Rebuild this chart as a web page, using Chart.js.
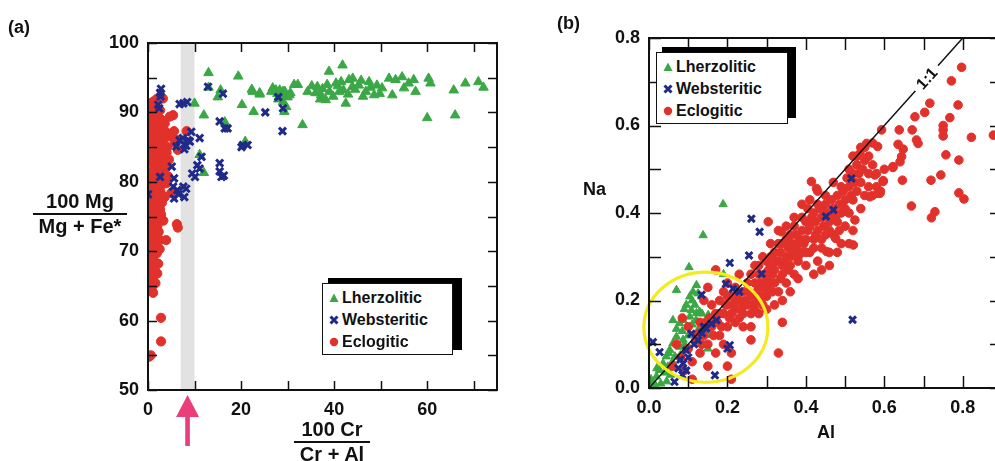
<!DOCTYPE html>
<html>
<head>
<meta charset="utf-8">
<script src="https://cdn.jsdelivr.net/npm/chart.js@4.4.1/dist/chart.umd.min.js"></script>
<style>
  html, body { margin: 0; padding: 0; width: 995px; height: 461px; overflow: hidden; background: #fff; }
  body { position: relative; font-family: 'Liberation Sans', Arial, sans-serif; font-weight: bold; color: #111; }
  canvas { position: absolute; top: 0; }
  .lbl { position: absolute; font-size: 18px; line-height: 20px; white-space: nowrap; }
  .frac { position: absolute; font-size: 20px; line-height: 22px; text-align: center; white-space: nowrap; }
  .frac .num { border-bottom: 2px solid #111; padding-bottom: 1px; }
  .shadow { position: absolute; background: #000; }
  .legend { position: absolute; background: #fff; border: 1.5px solid #111; box-sizing: border-box; font-size: 16px; }
  .legend div { position: absolute; left: 6px; height: 20px; line-height: 20px; white-space: nowrap; }
  .legend svg { vertical-align: middle; margin-right: 3px; position: relative; top: -1px; }
</style>
</head>
<body>
<canvas id="chartA" width="505" height="461" style="left:0"></canvas>
<canvas id="chartB" width="450" height="461" style="left:560px"></canvas>

<div class="lbl" style="left:8px;top:17px">(a)</div>
<div class="lbl" style="left:557px;top:13px">(b)</div>

<div class="frac" style="left:33px;top:190px;width:94px"><div class="num">100 Mg</div><div>Mg + Fe*</div></div>
<div class="frac" style="left:294px;top:418px;width:76px"><div class="num">100 Cr</div><div>Cr + Al</div></div>
<div class="lbl" style="left:583px;top:179px">Na</div>
<div class="lbl" style="left:817px;top:422px">Al</div>

<div class="shadow" style="left:328px;top:278px;width:134px;height:72px"></div>
<div class="legend" style="left:322px;top:283px;width:131px;height:72px">
  <div style="top:4px"><svg width="10" height="10"><polygon points="5,0.5 9.5,9 0.5,9" fill="#3aa845"/></svg>Lherzolitic</div>
  <div style="top:26px"><svg width="10" height="10"><path d="M1.5,1.5 L8.5,8.5 M8.5,1.5 L1.5,8.5" stroke="#1f2a8a" stroke-width="3"/></svg>Websteritic</div>
  <div style="top:48px"><svg width="10" height="10"><circle cx="5" cy="5" r="4.2" fill="#e2312b"/></svg>Eclogitic</div>
</div>

<div class="shadow" style="left:662px;top:47px;width:134px;height:71px"></div>
<div class="legend" style="left:656px;top:52px;width:132px;height:72px">
  <div style="top:4px"><svg width="10" height="10"><polygon points="5,0.5 9.5,9 0.5,9" fill="#3aa845"/></svg>Lherzolitic</div>
  <div style="top:26px"><svg width="10" height="10"><path d="M1.5,1.5 L8.5,8.5 M8.5,1.5 L1.5,8.5" stroke="#1f2a8a" stroke-width="3"/></svg>Websteritic</div>
  <div style="top:48px"><svg width="10" height="10"><circle cx="5" cy="5" r="4.2" fill="#e2312b"/></svg>Eclogitic</div>
</div>

<script>
// ---- panel (a): 100Cr/(Cr+Al) vs 100Mg/(Mg+Fe*) ----
var aXLabels = [0, 20, 40, 60];
var aXMinor = [10, 30, 50, 70];
var aYLabels = [50, 60, 70, 80, 90, 100];
var aYMinor = [55, 65, 75, 85, 95];
var aBand = [7, 10];
var aArrowX = 8.5;

var aLherzolitic = [
  [10.0,91.3],[12.0,89.6],[13.0,95.7],[13.0,93.6],[15.0,92.2],[15.6,93.2],[16.5,88.6],[11.1,83.9],[12.0,81.3],
  [19.4,95.2],[20.2,91.1],[22.3,93.3],[22.7,90.1],[24.0,92.6],[20.9,85.8],[22.5,93.0],[24.0,92.8],
  [26.5,93.0],[26.8,93.5],[27.5,93.2],[27.8,92.7],[28.3,93.2],[28.2,92.3],[28.8,92.4],[29.0,93.0],[29.4,93.0],
  [30.0,92.2],[30.4,92.5],[30.6,92.8],[28.0,91.9],[29.0,91.5],[29.3,90.1],[29.7,90.8],[31.4,94.0],[32.2,94.0],[33.2,88.2],
  [34.3,93.0],[35.2,93.8],[36.0,92.8],[36.4,93.7],[37.0,91.9],[37.2,92.5],[37.5,93.4],[38.2,91.8],[38.5,94.0],
  [38.9,95.9],[39.0,93.0],[39.8,92.3],[40.4,94.2],[40.8,93.8],[41.1,93.0],[41.5,94.4],[41.8,96.8],[42.0,93.2],
  [42.5,91.3],[43.0,92.6],[43.2,94.7],[43.9,93.7],[44.0,94.9],[44.5,93.3],[45.3,93.9],[45.8,94.6],[46.2,92.3],
  [46.8,93.0],[47.5,94.4],[47.8,93.6],[48.6,92.5],[49.2,93.9],[49.8,92.7],[50.3,93.5],[51.8,94.9],[52.5,92.5],
  [53.2,94.7],[54.6,95.1],[55.0,93.5],[56.0,94.2],[57.1,94.7],[57.5,93.0],[60.3,94.9],[60.7,94.2],[60.0,89.2],
  [66.0,89.6],[65.7,93.2],[68.2,94.2],[71.0,94.4],[72.1,93.6]
];
var aWebsteritic = [
  [2.6,92.8],[2.8,93.4],[2.7,92.3],[2.2,91.1],[2.4,90.6],[6.8,91.2],[7.6,91.3],[8.4,91.5],[9.3,87.2],[11.1,86.3],
  [6.8,86.0],[7.9,85.3],[6.1,85.1],[7.5,86.3],[8.2,85.2],[9.0,85.8],[7.8,84.7],[8.6,86.0],
  [15.4,88.7],[16.5,87.7],[17.1,87.7],[16.1,92.7],[12.9,93.7],[25.2,90.0],[28.9,87.3],[28.0,92.2],[29.0,90.6],
  [20.4,85.3],[21.4,85.3],[20.1,85.0],[11.5,83.6],[11.1,81.9],[10.1,80.7],[10.6,82.4],[9.5,81.2],
  [15.4,81.5],[15.8,80.7],[15.4,82.7],[16.3,80.9],[5.1,82.2],[2.6,80.7],[5.6,80.5],[5.4,79.3],[7.6,79.3],
  [6.3,78.8],[8.2,79.0],[5.6,77.6],[7.8,77.8],[6.6,78.2],[0.0,78.2]
];
var aEclogitic = [
  [0.6,91.3],[1.2,91.6],[2.0,92.0],[3.2,92.0],[1.6,90.6],[2.6,90.3],[0.2,90.2],
  [0.3,89.5],[1.0,89.2],[0.5,88.6],[1.5,88.4],[2.3,88.0],[0.2,87.6],[0.9,87.3],[1.7,87.0],[2.8,86.8],[3.5,86.2],
  [4.7,89.4],[5.4,89.6],[5.0,86.5],[5.6,87.3],[6.2,86.0],[8.3,87.3],[5.8,85.6],[6.4,84.6],[4.2,85.0],
  [0.4,85.8],[1.2,85.5],[2.0,85.2],[0.7,84.4],[1.6,84.0],[2.6,84.5],[3.2,83.8],[4.0,84.2],
  [0.2,83.0],[1.0,82.7],[1.9,82.3],[2.9,82.5],[3.7,82.0],[4.5,83.2],
  [0.5,81.4],[1.4,81.0],[2.3,80.6],[3.3,80.8],[4.0,79.8],[0.1,80.2],
  [0.8,79.3],[1.7,78.8],[2.7,78.5],[0.3,78.0],[3.6,77.8],[5.0,78.4],
  [1.2,77.2],[2.1,76.8],[0.6,76.3],[1.5,75.8],[2.6,76.0],
  [0.2,75.0],[1.0,74.6],[1.9,74.3],[2.8,75.3],[0.6,73.8],
  [1.4,73.2],[2.3,72.8],[0.3,72.5],[1.1,72.0],[3.9,71.6],[6.2,73.9],[6.4,73.4],
  [0.7,71.2],[1.7,70.8],[2.5,70.3],[0.2,70.2],[1.2,69.8],
  [1.9,69.7],[0.5,69.0],[1.5,68.4],[0.9,67.8],[2.2,68.2],
  [0.3,67.0],[1.3,66.5],[2.0,66.8],[0.7,65.9],[1.6,65.4],
  [0.4,64.8],[1.1,64.0],[0.8,64.5],
  [2.8,60.4],[2.8,57.0],[0.6,55.0],[0.2,54.8],
  [0.8,90.4],[1.8,89.8],[2.8,89.0],[3.6,88.4],[0.6,86.6],[1.4,86.3],[2.3,86.6],[3.0,85.4],[3.8,87.2],[0.9,83.6],
  [2.2,83.5],[1.5,82.0],[2.6,81.6],[3.5,81.2],[0.7,80.1],[1.8,79.8],[2.9,79.5],[1.1,78.0],[2.2,77.8],[0.3,77.0],
  [1.9,75.6],[0.8,75.2],[3.3,74.4],[0.4,74.0],[2.0,73.6],[0.9,73.0],[1.8,72.0],[0.4,71.5],[2.6,71.6],[1.0,70.5],
  [0.2,68.5],[1.1,69.0],[0.6,67.3],[1.5,67.2],[1.0,66.2],[0.2,65.6],[3.0,77.0],[4.3,80.8],[4.4,86.8],[3.2,88.6]
];

// ---- panel (b): Al vs Na ----
var bXLabels = [0, 0.2, 0.4, 0.6, 0.8];
var bXMinor = [0.1, 0.3, 0.5, 0.7, 0.9];
var bYLabels = [0, 0.2, 0.4, 0.6, 0.8];
var bYMinor = [0.1, 0.3, 0.5, 0.7];
var bOneToOne = [[0, 0], [0.8, 0.8]];
var bCircle = { x: 0.145, y: 0.139, rx: 0.158, ry: 0.126 };

var bLherzolitic = [
  [0.189,0.42],[0.138,0.349],[0.102,0.276],[0.19,0.26],[0.07,0.224],[0.121,0.235],[0.112,0.22],[0.125,0.216],
  [0.134,0.209],[0.104,0.209],[0.095,0.19],[0.117,0.19],[0.108,0.178],[0.121,0.171],[0.104,0.163],[0.087,0.155],
  [0.078,0.148],[0.061,0.155],[0.129,0.174],[0.151,0.167],[0.159,0.121],[0.07,0.117],[0.061,0.102],[0.053,0.087],
  [0.044,0.072],[0.036,0.056],[0.027,0.041],[0.019,0.026],[0.01,0.014],[0.078,0.094],[0.066,0.072],[0.087,0.11],
  [0.048,0.049],[0.095,0.087],[0.005,0.02],[0.015,0.008],[0.03,0.01],[0.045,0.015],[0.02,0.045],[0.04,0.035],
  [0.055,0.03],[0.06,0.06],[0.08,0.075],[0.05,0.08],[0.09,0.1],[0.1,0.12],[0.085,0.13],[0.11,0.145],[0.12,0.155],
  [0.13,0.14],[0.07,0.135],[0.09,0.18],[0.11,0.2],[0.135,0.17],[0.145,0.13],[0.16,0.15],[0.15,0.09]
];
var bWebsteritic = [
  [0.261,0.387],[0.282,0.357],[0.206,0.286],[0.255,0.303],[0.287,0.261],[0.196,0.238],[0.214,0.227],[0.134,0.213],
  [0.451,0.392],[0.47,0.407],[0.516,0.479],[0.519,0.156],[0.168,0.029],[0.065,0.014],[0.01,0.105],[0.027,0.082],
  [0.095,0.086],[0.095,0.04],[0.087,0.056],[0.206,0.098],[0.172,0.155],[0.146,0.136],[0.125,0.109],[0.108,0.124],
  [0.159,0.147],[0.1,0.07],[0.08,0.065],[0.115,0.1],[0.135,0.125],[0.085,0.03],[0.2,0.09],[0.23,0.22],[0.14,0.14],[0.075,0.045]
];
var bEclogitic = [
  [0.06,0.05],[0.08,0.07],[0.09,0.04],[0.1,0.09],[0.07,0.1],[0.11,0.06],[0.12,0.11],[0.1,0.14],[0.085,0.16],[0.11,0.02],
  [0.13,0.08],[0.14,0.12],[0.15,0.1],[0.13,0.15],[0.16,0.14],[0.17,0.17],[0.15,0.05],[0.17,0.08],[0.18,0.12],[0.19,0.1],
  [0.16,0.19],[0.18,0.2],[0.19,0.17],[0.2,0.14],[0.21,0.08],[0.2,0.05],[0.21,0.02],[0.17,0.27],[0.14,0.2],[0.15,0.23],
  [0.2,0.19],[0.21,0.21],[0.22,0.18],[0.22,0.23],[0.23,0.2],[0.24,0.17],[0.24,0.22],[0.25,0.19],[0.26,0.14],[0.25,0.24],
  [0.26,0.21],[0.27,0.18],[0.27,0.24],[0.28,0.26],[0.28,0.21],[0.29,0.23],[0.29,0.19],[0.3,0.25],[0.3,0.21],[0.31,0.28],
  [0.23,0.26],[0.2,0.24],[0.19,0.22],[0.24,0.14],[0.22,0.15],[0.21,0.17],[0.23,0.16],[0.26,0.26],[0.27,0.28],[0.29,0.3],
  [0.28,0.17],[0.3,0.18],
  [0.31,0.24],[0.32,0.27],[0.32,0.31],[0.33,0.22],[0.33,0.29],[0.34,0.26],[0.34,0.33],[0.35,0.3],[0.35,0.24],[0.36,0.28],
  [0.36,0.35],[0.37,0.31],[0.37,0.26],[0.38,0.33],[0.38,0.29],[0.39,0.36],[0.39,0.31],[0.4,0.34],[0.4,0.28],[0.31,0.33],
  [0.33,0.36],[0.35,0.37],[0.3,0.29],[0.36,0.22],[0.34,0.2],[0.32,0.19],[0.38,0.25],[0.4,0.38],[0.37,0.39],[0.34,0.15],
  [0.33,0.08],[0.26,0.11],[0.304,0.38],[0.338,0.357],
  [0.41,0.31],[0.41,0.37],[0.42,0.34],[0.42,0.4],[0.43,0.29],[0.43,0.36],[0.44,0.32],[0.44,0.39],[0.45,0.35],[0.45,0.42],
  [0.46,0.38],[0.46,0.31],[0.47,0.41],[0.47,0.35],[0.48,0.44],[0.48,0.38],[0.49,0.4],[0.49,0.33],[0.5,0.43],[0.5,0.37],
  [0.42,0.26],[0.44,0.27],[0.46,0.28],[0.48,0.31],[0.41,0.43],[0.39,0.42],[0.43,0.45],[0.47,0.47],[0.414,0.472],[0.427,0.456],
  [0.525,0.384],[0.521,0.327],[0.476,0.342],[0.453,0.312],
  [0.51,0.46],[0.51,0.4],[0.52,0.49],[0.52,0.43],[0.53,0.45],[0.53,0.51],[0.54,0.47],[0.54,0.41],[0.55,0.52],[0.55,0.44],
  [0.56,0.49],[0.56,0.46],[0.57,0.44],[0.58,0.46],[0.59,0.45],[0.52,0.36],[0.51,0.33],[0.54,0.55],[0.56,0.53],[0.52,0.53],
  [0.58,0.49],[0.6,0.5],[0.57,0.51],[0.597,0.472],[0.584,0.445],[0.563,0.437],[0.583,0.552],[0.555,0.559],[0.538,0.536],
  [0.576,0.487],[0.622,0.506],
  [0.797,0.733],[0.771,0.702],[0.788,0.647],[0.767,0.618],[0.716,0.651],[0.703,0.63],[0.678,0.62],[0.671,0.59],
  [0.638,0.59],[0.593,0.59],[0.75,0.6],[0.75,0.59],[0.75,0.576],[0.822,0.573],[0.878,0.578],[0.757,0.533],[0.79,0.521],
  [0.744,0.487],[0.719,0.475],[0.79,0.446],[0.803,0.432],[0.729,0.403],[0.72,0.389],[0.669,0.416],[0.646,0.475],
  [0.622,0.504],[0.635,0.557],[0.648,0.546],[0.644,0.529],[0.64,0.517],[0.682,0.567],[0.686,0.559],[0.597,0.474],[0.589,0.445],
  [0.125,0.125],[0.135,0.1],[0.145,0.15],[0.155,0.16],[0.165,0.12],[0.175,0.15],[0.185,0.14],[0.195,0.19],[0.205,0.16],
  [0.215,0.19],[0.225,0.21],[0.235,0.18],[0.245,0.2],[0.255,0.22],[0.265,0.19],[0.275,0.22],[0.285,0.24],[0.295,0.26],
  [0.305,0.27],[0.315,0.26],[0.325,0.29],[0.335,0.31],[0.345,0.29],[0.355,0.32],[0.365,0.33],[0.375,0.35],[0.385,0.34],
  [0.395,0.33],[0.405,0.36],[0.415,0.39],[0.425,0.38],[0.435,0.41],[0.445,0.37],[0.455,0.4],[0.465,0.43],[0.475,0.39],
  [0.485,0.42],[0.495,0.45],[0.505,0.48],[0.515,0.44],[0.525,0.47],[0.535,0.49],[0.545,0.5],[0.5,0.41],[0.46,0.36],
  [0.44,0.34],[0.42,0.32],[0.4,0.31],[0.38,0.3],[0.36,0.3],[0.34,0.28],[0.32,0.24],[0.3,0.23],[0.28,0.23],[0.26,0.17],
  [0.24,0.19],[0.22,0.2],[0.2,0.21],[0.18,0.17],[0.28,0.28],[0.31,0.3],[0.33,0.33],[0.35,0.34],[0.37,0.37],[0.39,0.39],
  [0.43,0.42],[0.45,0.44],[0.49,0.46],[0.51,0.5],[0.53,0.53],[0.55,0.55],[0.57,0.56],[0.405,0.41],[0.425,0.35],
  [0.445,0.41],[0.465,0.4],[0.485,0.36],[0.375,0.32],[0.355,0.27],[0.335,0.25],[0.315,0.22],[0.295,0.21],[0.275,0.2]
];

var RED = '#e2312b', GREEN = '#3aa845', NAVY = '#1f2a8a';
var FONT = { family: "'Liberation Sans', Arial, sans-serif", size: 18, weight: 'bold' };

function toPts(arr) {
    return arr.map(function (p) { return { x: p[0], y: p[1] }; });
}

// frame + inward ticks on all four sides
var frameTicks = {
    id: 'frameTicks',
    afterDraw: function (chart, args, opts) {
        var ctx = chart.ctx, a = chart.chartArea, x = chart.scales.x, y = chart.scales.y;
        var len = opts.len;
        ctx.save();
        ctx.strokeStyle = '#111';
        ctx.lineWidth = opts.lw;
        ctx.beginPath();
        opts.xt.forEach(function (v) {
            var px = Math.round(x.getPixelForValue(v)) + 0.5;
            if (px > a.right + 1) return;
            ctx.moveTo(px, a.bottom); ctx.lineTo(px, a.bottom - len);
            ctx.moveTo(px, a.top); ctx.lineTo(px, a.top + len);
        });
        opts.yt.forEach(function (v) {
            var py = Math.round(y.getPixelForValue(v)) + 0.5;
            ctx.moveTo(a.left, py); ctx.lineTo(a.left + len, py);
            ctx.moveTo(a.right, py); ctx.lineTo(a.right - len, py);
        });
        ctx.stroke();
        ctx.lineWidth = opts.lw + 0.5;
        ctx.strokeRect(a.left, a.top, a.right - a.left, a.bottom - a.top);
        ctx.restore();
    }
};

// gray band and pink arrow for panel (a)
var bandArrow = {
    id: 'bandArrow',
    beforeDatasetsDraw: function (chart) {
        var ctx = chart.ctx, a = chart.chartArea, x = chart.scales.x;
        var x0 = x.getPixelForValue(aBand[0]), x1 = x.getPixelForValue(aBand[1]);
        ctx.save();
        ctx.fillStyle = '#e2e2e2';
        ctx.fillRect(x0, a.top, x1 - x0, a.bottom - a.top);
        ctx.restore();
    },
    afterDraw: function (chart) {
        var ctx = chart.ctx, a = chart.chartArea, x = chart.scales.x;
        var px = x.getPixelForValue(aArrowX), tip = a.bottom + 5;
        ctx.save();
        ctx.fillStyle = '#ea3d7b';
        ctx.beginPath();
        ctx.moveTo(px, tip);
        ctx.lineTo(px + 11.5, tip + 22);
        ctx.lineTo(px - 11.5, tip + 22);
        ctx.closePath();
        ctx.fill();
        ctx.fillRect(px - 2.3, tip + 20, 4.6, 31);
        ctx.restore();
    }
};

// yellow ring and 1:1 label for panel (b)
var ringLabel = {
    id: 'ringLabel',
    afterDatasetsDraw: function (chart) {
        var ctx = chart.ctx, x = chart.scales.x, y = chart.scales.y;
        var cx = x.getPixelForValue(bCircle.x), cy = y.getPixelForValue(bCircle.y);
        var rx = x.getPixelForValue(bCircle.x + bCircle.rx) - cx;
        var ry = cy - y.getPixelForValue(bCircle.y + bCircle.ry);
        ctx.save();
        ctx.strokeStyle = '#f3ea1f';
        ctx.lineWidth = 3.2;
        ctx.beginPath();
        ctx.ellipse(cx, cy, rx, ry, 0, 0, Math.PI * 2);
        ctx.stroke();

        var p0x = x.getPixelForValue(0), p0y = y.getPixelForValue(0);
        var p1x = x.getPixelForValue(0.8), p1y = y.getPixelForValue(0.8);
        var ang = Math.atan2(p1y - p0y, p1x - p0x);
        var lx = x.getPixelForValue(0.708), ly = y.getPixelForValue(0.708);
        ctx.translate(lx, ly);
        ctx.rotate(ang);
        ctx.fillStyle = '#fff';
        ctx.fillRect(-17, -8, 34, 16);
        ctx.fillStyle = '#111';
        ctx.font = "bold 16px 'Liberation Sans', Arial, sans-serif";
        ctx.textAlign = 'center';
        ctx.textBaseline = 'middle';
        ctx.fillText('1:1', 0, 1);
        ctx.restore();
    }
};

function axisOpts(min, max, labels, fmt, fit) {
    return {
        type: 'linear',
        min: min,
        max: max,
        grid: { display: false, drawTicks: false },
        border: { display: false },
        ticks: { font: FONT, color: '#111', padding: 9, callback: fmt },
        afterBuildTicks: function (s) { s.ticks = labels.map(function (v) { return { value: v }; }); },
        afterFit: fit
    };
}

function scatterSet(label, pts, style, color, r, bw, order) {
    return {
        label: label,
        data: toPts(pts),
        pointStyle: style,
        pointRadius: r,
        pointHoverRadius: r,
        backgroundColor: color,
        borderColor: color,
        borderWidth: bw,
        order: order
    };
}

new Chart(document.getElementById('chartA'), {
    type: 'scatter',
    data: {
        datasets: [
            scatterSet('Websteritic', aWebsteritic, 'crossRot', NAVY, 5, 3, 1),
            scatterSet('Lherzolitic', aLherzolitic, 'triangle', GREEN, 5.5, 1, 2),
            scatterSet('Eclogitic', aEclogitic, 'circle', RED, 4.6, 1, 3)
        ]
    },
    options: {
        responsive: false,
        animation: false,
        layout: { padding: { left: 100, top: 43, right: 6, bottom: 0 } },
        plugins: {
            legend: { display: false },
            tooltip: { enabled: false },
            frameTicks: { xt: aXLabels.concat(aXMinor), yt: aYLabels.concat(aYMinor), len: 9, lw: 1.5 }
        },
        scales: {
            x: axisOpts(0, 75, aXLabels, function (v) { return v; }, function (s) { s.height = 71; }),
            y: axisOpts(50, 100, aYLabels, function (v) { return v; }, function (s) { s.width = 48; })
        }
    },
    plugins: [frameTicks, bandArrow]
});

var oneSet = {
    label: '1:1',
    data: toPts(bOneToOne),
    showLine: true,
    borderColor: '#111',
    borderWidth: 1.5,
    pointRadius: 0,
    order: 0
};

new Chart(document.getElementById('chartB'), {
    type: 'scatter',
    data: {
        datasets: [
            oneSet,
            scatterSet('Websteritic', bWebsteritic, 'crossRot', NAVY, 4.8, 3, 1),
            scatterSet('Eclogitic', bEclogitic, 'circle', RED, 4.3, 1, 2),
            scatterSet('Lherzolitic', bLherzolitic, 'triangle', GREEN, 4.8, 1, 3)
        ]
    },
    options: {
        responsive: false,
        animation: false,
        layout: { padding: { left: 40, top: 38, right: 8, bottom: 0 } },
        plugins: {
            legend: { display: false },
            tooltip: { enabled: false },
            frameTicks: { xt: bXLabels.concat(bXMinor), yt: bYLabels.concat(bYMinor), len: 12, lw: 1.5 }
        },
        scales: {
            x: axisOpts(0, 0.9, bXLabels, function (v) { return v.toFixed(1); }, function (s) { s.height = 73; }),
            y: axisOpts(0, 0.8, bYLabels, function (v) { return v.toFixed(1); }, function (s) { s.width = 49; })
        }
    },
    plugins: [frameTicks, ringLabel]
});
</script>
</body>
</html>
